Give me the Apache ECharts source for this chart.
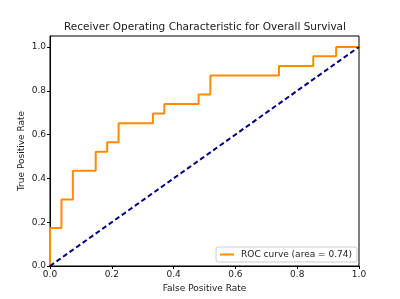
<!DOCTYPE html>
<html>
<head>
<meta charset="utf-8">
<script src="https://cdn.jsdelivr.net/npm/echarts@6/dist/echarts.min.js"></script>
<style>
  html, body { margin: 0; padding: 0; background: #fff; }
  #main { width: 400px; height: 299px; }
</style>
</head>
<body>
<div id="main"></div>
<script>
  // ROC curve points (step shape)
  var fpr = [0, 0, 0.037, 0.037, 0.074, 0.074, 0.148, 0.148, 0.185, 0.185, 0.222, 0.222,
    0.333, 0.333, 0.370, 0.370, 0.481, 0.481, 0.519, 0.519, 0.741, 0.741, 0.852, 0.852,
    0.926, 0.926, 1.0]
  var tpr = [0, 0.174, 0.174, 0.304, 0.304, 0.435, 0.435, 0.522, 0.522, 0.565, 0.565, 0.652,
    0.652, 0.696, 0.696, 0.739, 0.739, 0.783, 0.783, 0.870, 0.870, 0.913, 0.913, 0.957,
    0.957, 1.0, 1.0]
  var chanceX = [0, 1]
  var chanceY = [0, 1]
  var rocName = 'ROC curve (area = 0.74)'

  var font = 'DejaVu Sans'
  var rocData = fpr.map(function (x, i) { return [x, tpr[i]] })
  var chanceData = chanceX.map(function (x, i) { return [x, chanceY[i]] })

  var myChart = echarts.init(document.getElementById('main'))
  var option = {
    animation: false,
    title: {
      text: 'Receiver Operating Characteristic for Overall Survival',
      left: 205, top: 22, textAlign: 'center', padding: 0,
      textStyle: { fontFamily: font, fontSize: 10.5, fontWeight: 'normal', color: '#1a1a1a' }
    },
    legend: {
      data: [rocName],
      right: 43, bottom: 37,
      orient: 'vertical',
      itemWidth: 14, itemHeight: 2, itemGap: 4,
      padding: [3, 5, 3, 4],
      borderColor: '#ccc', borderWidth: 1, borderRadius: 2,
      textStyle: { fontFamily: font, fontSize: 9, color: '#1a1a1a', padding: [0, 0, 0, 2] },
      icon: 'rect'
    },
    grid: {
      left: 50, right: 41, top: 36, bottom: 33,
      show: true, borderColor: '#000', borderWidth: 1
    },
    xAxis: {
      type: 'value', min: 0, max: 1, interval: 0.2,
      name: 'False Positive Rate', nameLocation: 'middle', nameGap: 18,
      nameMoveOverlap: false,
      nameTextStyle: { fontFamily: font, fontSize: 9, color: '#1a1a1a' },
      axisLine: { lineStyle: { color: '#000' } },
      axisTick: { length: 3, lineStyle: { color: '#000' } },
      axisLabel: {
        fontFamily: font, fontSize: 9, color: '#1a1a1a', margin: 4,
        formatter: function (v) { return v.toFixed(1) }
      },
      splitLine: { show: false }
    },
    yAxis: {
      type: 'value', min: 0, max: 1.05, interval: 0.2,
      name: 'True Positive Rate', nameLocation: 'middle', nameGap: 24,
      nameMoveOverlap: false,
      nameTextStyle: { fontFamily: font, fontSize: 9, color: '#1a1a1a' },
      axisLine: { lineStyle: { color: '#000' } },
      axisTick: { length: 3, lineStyle: { color: '#000' } },
      axisLabel: {
        fontFamily: font, fontSize: 9, color: '#1a1a1a', margin: 4, showMaxLabel: false,
        formatter: function (v) { return v > 1.01 ? '' : v.toFixed(1) }
      },
      splitLine: { show: false }
    },
    series: [{
        name: rocName,
        type: 'line',
        data: rocData,
        symbol: 'none',
        color: '#ff8c00',
        lineStyle: { color: '#ff8c00', width: 2 }
      },
      {
        name: 'chance',
        type: 'line',
        data: chanceData,
        symbol: 'none',
        color: '#000080',
        lineStyle: { color: '#000080', width: 2, type: [5, 3] }
      }
    ]
  }
  myChart.setOption(option)
</script>
</body>
</html>
